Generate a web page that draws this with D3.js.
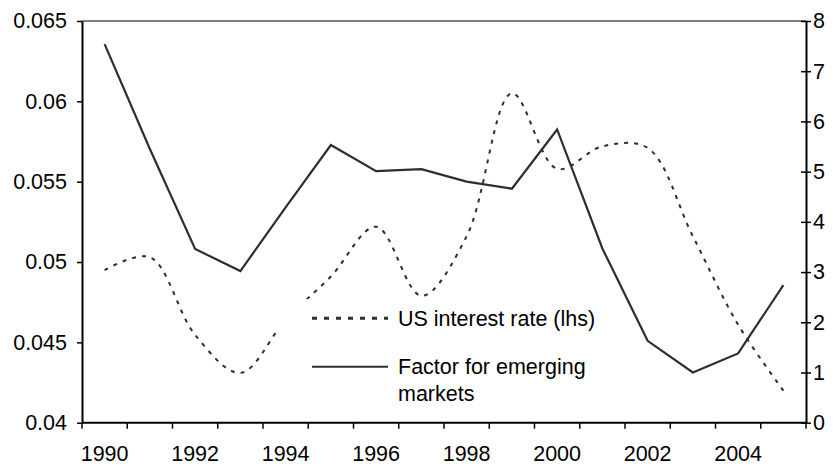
<!DOCTYPE html>
<html><head><meta charset="utf-8">
<script src="https://cdn.jsdelivr.net/npm/d3@7"></script>
<style>
html,body{margin:0;padding:0;background:#fff;}
svg{display:block;font-family:"Liberation Sans",Arial,sans-serif;}
</style></head>
<body><svg id="c" width="838" height="471"></svg>
<script>
const years = [1990,1991,1992,1993,1994,1995,1996,1997,1998,1999,2000,2001,2002,2003,2004,2005];
const usRate = [0.0495,0.0503,0.04546,0.0431,0.0464,0.0491,0.0522,0.0479,0.0516,0.0605,0.0558,0.0572,0.0571,0.0516,0.0461,0.0420];
const emFactor = [7.54,5.45,3.46,3.02,4.29,5.53,5.01,5.05,4.80,4.66,5.84,3.47,1.63,1.00,1.38,2.74];
const leftTicks = [0.04,0.045,0.05,0.055,0.06,0.065];
const leftTickLabels = ["0.04","0.045","0.05","0.055","0.06","0.065"];
const rightTicks = [0,1,2,3,4,5,6,7,8];
const yearLabels = [1990,1992,1994,1996,1998,2000,2002,2004];
const legendLabels = [["US interest rate (lhs)"],["Factor for emerging","markets"]];

const svg = d3.select("#c");
const L=82, R=806, T=21, B=422.7;
const x = d3.scaleBand().domain(years).range([L,R]);
const cx = d => x(d) + x.bandwidth()/2;
const yL = d3.scaleLinear().domain([0.04,0.065]).range([B,T]);
const yR = d3.scaleLinear().domain([0,8]).range([B,T]);
const ink = "#2e2e2e";
const fs = 21.5;

// top border
svg.append("line").attr("x1",L).attr("x2",R).attr("y1",T).attr("y2",T)
  .attr("stroke","#555").attr("stroke-width",1.5);

// lines
const lineUS = d3.line().x((d,i)=>cx(years[i])).y(d=>yL(d)).curve(d3.curveCatmullRom.alpha(0.5));
const lineEM = d3.line().x((d,i)=>cx(years[i])).y(d=>yR(d));
svg.append("path").attr("d",lineUS(usRate)).attr("fill","none").attr("stroke",ink)
  .attr("stroke-width",2).attr("stroke-dasharray","4,6");
svg.append("path").attr("d",lineEM(emFactor)).attr("fill","none").attr("stroke",ink)
  .attr("stroke-width",2.2).attr("stroke-linejoin","miter");

// legend box
const lg = svg.append("g");
lg.append("rect").attr("x",278).attr("y",299).attr("width",335).attr("height",112).attr("fill","#fff");
lg.append("line").attr("x1",312).attr("x2",388).attr("y1",318.3).attr("y2",318.3)
  .attr("stroke",ink).attr("stroke-width",3).attr("stroke-dasharray","5,7");
lg.append("line").attr("x1",312).attr("x2",388).attr("y1",366.7).attr("y2",366.7)
  .attr("stroke",ink).attr("stroke-width",2);
lg.append("text").attr("x",398).attr("y",325.5).attr("font-size",fs).attr("fill","#000").text(legendLabels[0][0]);
const t2 = lg.append("text").attr("x",398).attr("y",373.5).attr("font-size",fs).attr("fill","#000");
legendLabels[1].forEach((s,i)=>t2.append("tspan").attr("x",398).attr("dy",i?27:0).text(s));

// left axis
const gl = svg.append("g").attr("transform",`translate(${L},0)`)
  .call(d3.axisLeft(yL).tickValues(leftTicks).tickSize(5).tickSizeOuter(0).tickPadding(10)
    .tickFormat((d,i)=>leftTickLabels[i]));
gl.select(".domain").attr("stroke","#000").attr("stroke-width",2);
gl.selectAll(".tick line").attr("stroke","#000").attr("stroke-width",1.5);
gl.selectAll(".tick text").attr("font-size",fs).attr("fill","#000").attr("font-family","Liberation Sans, Arial, sans-serif");

// right axis (ticks cross)
const gr = svg.append("g").attr("transform",`translate(${R},0)`)
  .call(d3.axisRight(yR).tickValues(rightTicks).tickSize(5).tickSizeOuter(0).tickPadding(2)
    .tickFormat(d3.format("d")));
gr.select(".domain").attr("stroke","#000").attr("stroke-width",2);
gr.selectAll(".tick line").attr("x1",-5).attr("stroke","#000").attr("stroke-width",1.5);
gr.selectAll(".tick text").attr("font-size",fs).attr("fill","#000").attr("font-family","Liberation Sans, Arial, sans-serif");

// bottom axis (category boundaries)
const gb = svg.append("g");
gb.append("line").attr("x1",L).attr("x2",R).attr("y1",B).attr("y2",B).attr("stroke","#000").attr("stroke-width",2);
const bounds = years.map(d=>x(d)).concat([x.range()[1]]);
gb.selectAll(".bt").data(bounds).join("line").attr("class","bt")
  .attr("x1",d=>d).attr("x2",d=>d).attr("y1",B).attr("y2",B+6).attr("stroke","#000").attr("stroke-width",1.5);
gb.selectAll(".bl").data(yearLabels).join("text").attr("class","bl")
  .attr("x",d=>cx(d)).attr("y",461).attr("text-anchor","middle").attr("font-size",fs).attr("fill","#000")
  .text(d=>d);
</script></body></html>
